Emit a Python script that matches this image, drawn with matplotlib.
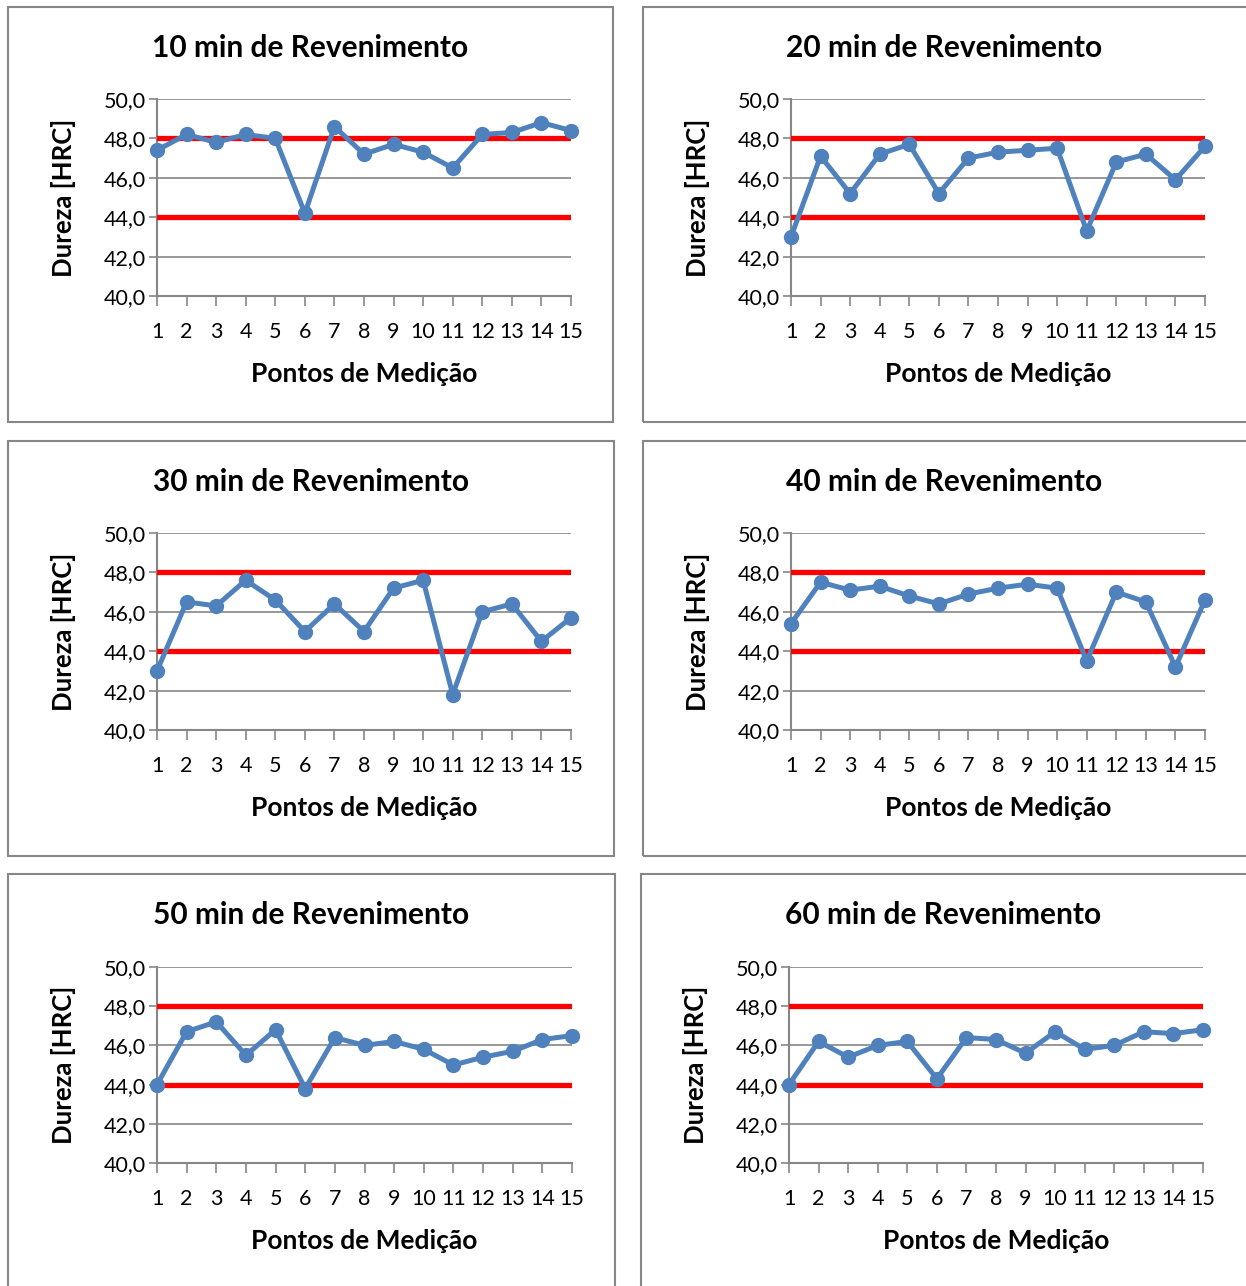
import numpy as np
import matplotlib.pyplot as plt
from matplotlib.patches import Rectangle
from matplotlib.ticker import FuncFormatter

plt.rcParams['font.family'] = ['Lato', 'DejaVu Sans']

# Data
pontos = np.arange(1, 16)
titulos = ['10 min de Revenimento', '20 min de Revenimento',
           '30 min de Revenimento', '40 min de Revenimento',
           '50 min de Revenimento', '60 min de Revenimento']
dureza_10 = [47.4, 48.2, 47.8, 48.2, 48.0, 44.2, 48.6, 47.2, 47.7, 47.3, 46.5, 48.2, 48.3, 48.8, 48.4]
dureza_20 = [43.0, 47.1, 45.2, 47.2, 47.7, 45.2, 47.0, 47.3, 47.4, 47.5, 43.3, 46.8, 47.2, 45.9, 47.6]
dureza_30 = [43.0, 46.5, 46.3, 47.6, 46.6, 45.0, 46.4, 45.0, 47.2, 47.6, 41.8, 46.0, 46.4, 44.5, 45.7]
dureza_40 = [45.4, 47.5, 47.1, 47.3, 46.8, 46.4, 46.9, 47.2, 47.4, 47.2, 43.5, 47.0, 46.5, 43.2, 46.6]
dureza_50 = [44.0, 46.7, 47.2, 45.5, 46.8, 43.8, 46.4, 46.0, 46.2, 45.8, 45.0, 45.4, 45.7, 46.3, 46.5]
dureza_60 = [44.0, 46.2, 45.4, 46.0, 46.2, 44.3, 46.4, 46.3, 45.6, 46.7, 45.8, 46.0, 46.7, 46.6, 46.8]
series = [dureza_10, dureza_20, dureza_30, dureza_40, dureza_50, dureza_60]
limite_inf = 44.0
limite_sup = 48.0

W, H = 1246, 1286
fig = plt.figure(figsize=(W / 100, H / 100), dpi=100)

# panel frames (px: x0, y0, x1, y1) and plot areas (px: x0, y0, x1, y1)
frames = [(8, 7, 613, 422), (643, 7, 1250, 422),
          (8, 441, 614, 856), (643, 441, 1250, 856),
          (8, 874, 615, 1290), (641, 874, 1250, 1290)]
areas = [(157, 99, 571, 296), (791, 99, 1205, 296),
         (157, 533, 571, 730), (791, 533, 1205, 730),
         (157, 967, 572, 1163), (789, 967, 1203, 1163)]

grey = '#868686'
fmt = FuncFormatter(lambda v, p: f'{v:.1f}'.replace('.', ','))

for i in range(6):
    fx0, fy0, fx1, fy1 = frames[i]
    fig.add_artist(Rectangle((fx0 / W, 1 - fy1 / H), (fx1 - fx0) / W, (fy1 - fy0) / H,
                             transform=fig.transFigure, fill=False,
                             edgecolor=grey, linewidth=1.5))
    x0, y0, x1, y1 = areas[i]
    ax = fig.add_axes([x0 / W, 1 - y1 / H, (x1 - x0) / W, (y1 - y0) / H])

    ax.plot([1, 15], [limite_sup, limite_sup], color='#FF0000', lw=3.8, solid_capstyle='round', zorder=3)
    ax.plot([1, 15], [limite_inf, limite_inf], color='#FF0000', lw=3.8, solid_capstyle='round', zorder=3)
    ax.plot(pontos, series[i], color='#4F81BD', lw=3.6, marker='o', ms=10, zorder=4, clip_on=False)

    ax.set_xlim(1, 15)
    ax.set_ylim(40, 50)
    ax.set_yticks(np.arange(40, 50.1, 2))
    ax.set_xticks(pontos)
    ax.yaxis.set_major_formatter(fmt)
    ax.grid(axis='y', color=grey, lw=1.2, zorder=0)
    for s in ['top', 'right']:
        ax.spines[s].set_visible(False)
    for s in ['left', 'bottom']:
        ax.spines[s].set_color(grey)
        ax.spines[s].set_linewidth(1.5)
    ax.tick_params(axis='y', colors=grey, labelcolor='black', length=6, width=1.2,
                   labelsize=15.5, pad=2)
    ax.tick_params(axis='x', colors=grey, labelcolor='black', length=7, width=1.2,
                   labelsize=15.5, pad=12)
    ax.set_xlabel('Pontos de Medição', fontsize=19, fontweight='bold', labelpad=14)
    ax.set_ylabel('Dureza [HRC]', fontsize=18.5, fontweight='bold', labelpad=20)

    fig.text((fx0 + fx1) / 2 / W if i % 2 == 0 else (fx0 + 1246) / 2 / W,
             1 - (fy0 + 41) / H, titulos[i], ha='center', va='center',
             fontsize=21.5, fontweight='bold')

fig.savefig('out.png', dpi=100)
